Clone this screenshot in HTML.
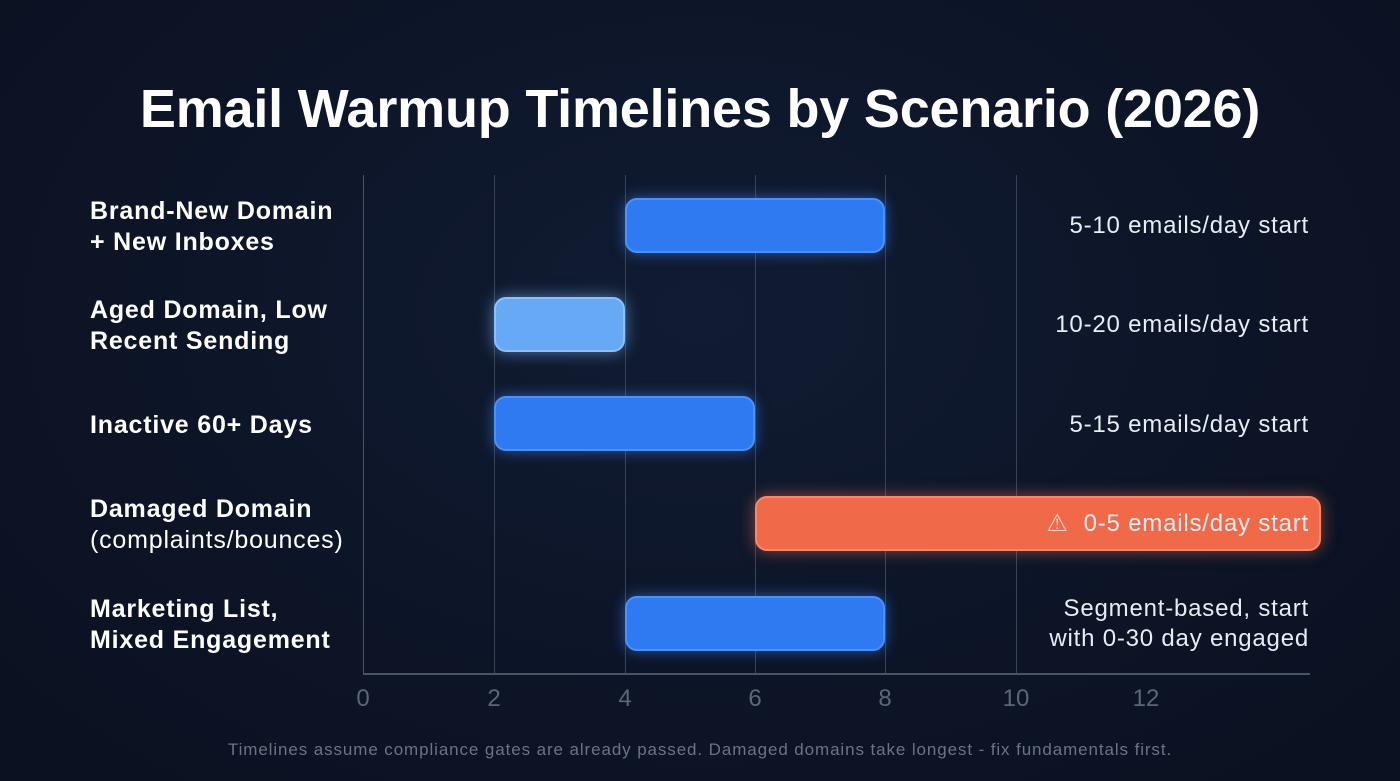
<!DOCTYPE html>
<html><head><meta charset="utf-8"><style>
html,body{margin:0;padding:0}
body{width:1400px;height:781px;overflow:hidden;background:radial-gradient(ellipse at 50% 40%,#111c33 0%,#0c1426 60%,#0a1120 100%);font-family:"Liberation Sans",sans-serif;color:#fff;position:relative}
.t{position:absolute;left:0;width:1400px;top:78px;text-align:center;font-size:54px;font-weight:bold;letter-spacing:-0.2px}
.g{position:absolute;top:175px;height:498px;width:1px;background:#3a4356}
.ax{position:absolute;left:363px;top:673px;width:947px;height:2px;background:#4a5366}
.tk{position:absolute;top:685px;width:40px;margin-left:-20px;text-align:center;color:#5d6678;font-size:24px}
.lab{position:absolute;left:90px;font-size:25px;font-weight:bold;line-height:31px;letter-spacing:0.8px}
.bar{position:absolute;height:51px;border-radius:12px;background:#2f7af0;border:2px solid #4d90f7;box-shadow:0 0 14px rgba(59,130,246,.6)}
.r{position:absolute;right:91px;text-align:right;font-size:24px;line-height:30px;color:#e8ecf3;letter-spacing:0.8px}
.f{position:absolute;top:740px;width:1400px;text-align:center;color:#6b7385;font-size:17px;letter-spacing:0.9px}
</style></head><body>
<div class="t">Email Warmup Timelines by Scenario (2026)</div>
<div class="g" style="left:363px;background:#4a5366"></div>
<div class="g" style="left:494px"></div><div class="g" style="left:625px"></div><div class="g" style="left:755px"></div><div class="g" style="left:885px"></div><div class="g" style="left:1016px"></div>
<div class="ax"></div>
<div class="tk" style="left:363px">0</div><div class="tk" style="left:494px">2</div><div class="tk" style="left:625px">4</div><div class="tk" style="left:755px">6</div><div class="tk" style="left:885px">8</div><div class="tk" style="left:1016px">10</div><div class="tk" style="left:1146px">12</div>
<div class="lab" style="top:196px">Brand-New Domain<br>+ New Inboxes</div>
<div class="lab" style="top:295px">Aged Domain, Low<br>Recent Sending</div>
<div class="lab" style="top:410px">Inactive 60+ Days</div>
<div class="lab" style="top:494px">Damaged Domain<br><span style="font-weight:normal">(complaints/bounces)</span></div>
<div class="lab" style="top:594px">Marketing List,<br>Mixed Engagement</div>
<div class="bar" style="left:625px;top:198px;width:256px"></div>
<div class="bar" style="left:494px;top:297px;width:127px;background:#68a9f5;border-color:#8dc0fa;box-shadow:0 0 16px rgba(120,180,250,.6)"></div>
<div class="bar" style="left:494px;top:396px;width:257px"></div>
<div class="bar" style="left:755px;top:496px;width:562px;background:#f06a4a;border-color:#f6896c;box-shadow:0 0 16px rgba(240,110,80,.55)"></div>
<div class="bar" style="left:625px;top:596px;width:256px"></div>
<div class="r" style="top:211px">5-10 emails/day start</div>
<div class="r" style="top:310px">10-20 emails/day start</div>
<div class="r" style="top:410px">5-15 emails/day start</div>
<div class="r" style="top:509px"><span style="color:#fbd0c4">⚠</span>&nbsp; 0-5 emails/day start</div>
<div class="r" style="top:594px">Segment-based, start<br>with 0-30 day engaged</div>
<div class="f">Timelines assume compliance gates are already passed. Damaged domains take longest - fix fundamentals first.</div>
</body></html>
